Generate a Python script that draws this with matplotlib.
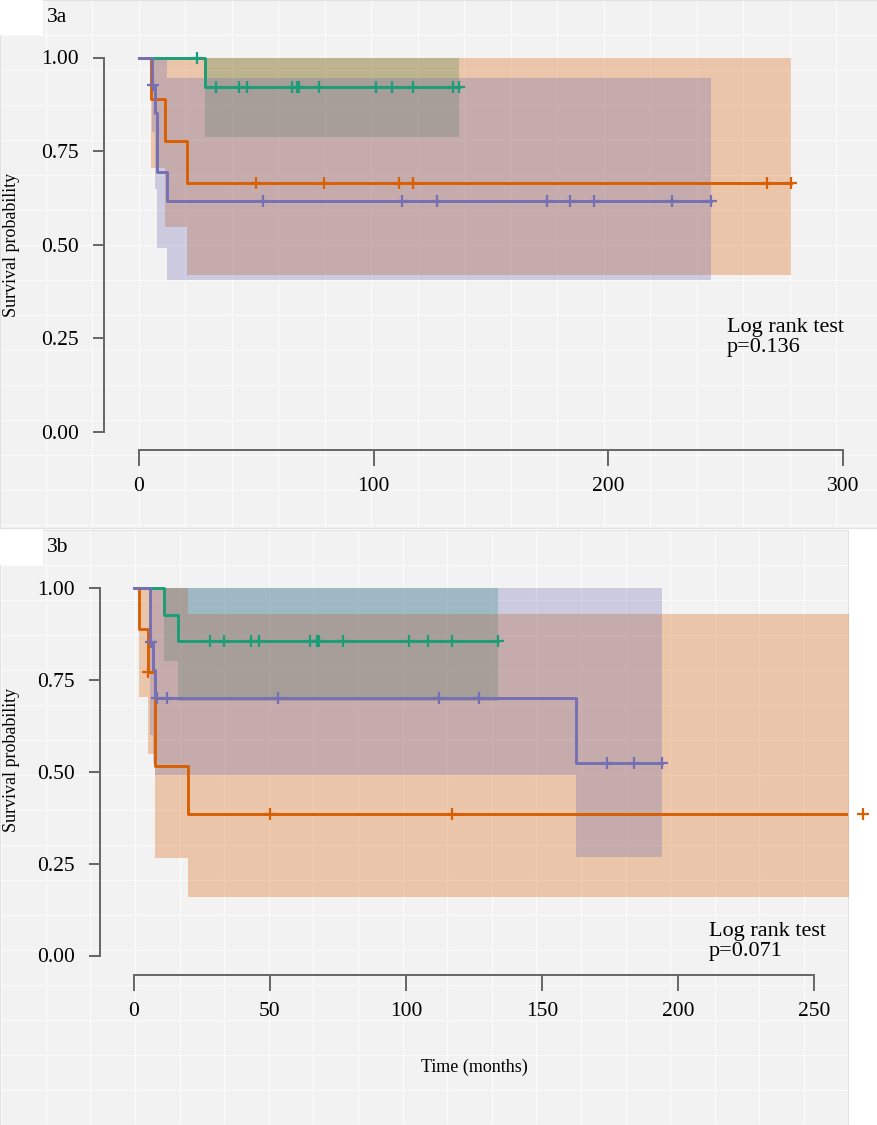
import numpy as np
import matplotlib
matplotlib.use("Agg")
import matplotlib.pyplot as plt
from matplotlib.patches import Rectangle
from matplotlib.ticker import FormatStrFormatter

plt.rcParams['font.family'] = ['Liberation Serif', 'DejaVu Serif']

# ---- panel 3a data ----
a_green_time = [0, 28]
a_green_surv = [1.0, 0.922]
a_green_lower = [1.0, 0.789]
a_green_upper = [1.0, 1.0]
a_green_cens = [24.6, 32.8, 42.7, 45.9, 65.0, 67.2, 68.2, 76.8, 101.0, 107.8, 116.9, 133.9, 136.4]

a_orange_time = [0, 5.0, 11.1, 20.3]
a_orange_surv = [1.0, 0.889, 0.777, 0.664]
a_orange_lower = [1.0, 0.705, 0.548, 0.419]
a_orange_upper = [1.0, 1.0, 1.0, 1.0]
a_orange_cens = [49.8, 78.8, 110.9, 116.9, 267.7, 277.6]

a_purple_time = [0, 5.4, 6.8, 7.8, 12.1]
a_purple_surv = [1.0, 0.927, 0.852, 0.695, 0.617]
a_purple_lower = [1.0, 0.80, 0.65, 0.49, 0.406]
a_purple_upper = [1.0, 1.0, 1.0, 1.0, 0.946]
a_purple_cens = [6.0, 53.0, 112.0, 126.8, 173.7, 183.6, 193.9, 227.0, 243.7]

a_xticks = [0, 100, 200, 300]
a_pvalue = "p=0.136"

# ---- panel 3b data ----
b_green_time = [0, 11.0, 16.1]
b_green_surv = [1.0, 0.927, 0.857]
b_green_lower = [1.0, 0.80, 0.693]
b_green_upper = [1.0, 1.0, 1.0]
b_green_cens = [27.9, 33.1, 42.9, 46.0, 64.7, 67.4, 68.1, 77.0, 101.1, 108.0, 117.0, 133.9]

b_orange_time = [0, 1.95, 5.0, 7.7, 20.0]
b_orange_surv = [1.0, 0.888, 0.772, 0.516, 0.385]
b_orange_lower = [1.0, 0.704, 0.548, 0.264, 0.160]
b_orange_upper = [1.0, 1.0, 1.0, 1.0, 0.929]
b_orange_cens = [5.1, 50.0, 117.0, 268.0]

b_purple_time = [0, 5.9, 7.1, 7.9, 162.4]
b_purple_surv = [1.0, 0.854, 0.777, 0.700, 0.523]
b_purple_lower = [1.0, 0.60, 0.52, 0.491, 0.269]
b_purple_upper = [1.0, 1.0, 1.0, 1.0, 1.0]
b_purple_cens = [6.3, 8.3, 12.0, 53.0, 112.2, 126.9, 173.8, 183.9, 194.0]

b_xticks = [0, 50, 100, 150, 200, 250]
b_pvalue = "p=0.071"

yticks = [0.0, 0.25, 0.50, 0.75, 1.00]

colors = {'green': '#1b9e77', 'orange': '#d95f02', 'purple': '#7570b3'}
bg_color = '#f2f2f2'

W, H = 878, 1125
fig = plt.figure(figsize=(W / 100, H / 100), dpi=100)
fig.patch.set_facecolor('white')


def px_rect(l, t, r, b):
    return [l / W, 1 - b / H, (r - l) / W, (b - t) / H]


def background(l, t, r, b, dx, x0, label):
    bg = fig.add_axes(px_rect(l, t, r, b))
    bg.set_xlim(0, r - l)
    bg.set_ylim(b - t, 0)
    bg.set_facecolor(bg_color)
    bg.set_xticks([])
    bg.set_yticks([])
    for s in bg.spines.values():
        s.set_color('#e2e2e2')
        s.set_linewidth(0.8)
    for x in np.arange(x0, r - l, dx):
        bg.axvline(x, color='#fbfbfb', lw=1.0, zorder=1)
    for y in np.arange(35, b - t, 35):
        bg.axhline(y, color='#fbfbfb', lw=1.0, zorder=1)
    bg.add_patch(Rectangle((0, 0), 43, 35, facecolor='white', edgecolor='none', zorder=3))
    bg.text(47, 18, label, fontsize=15.5, va='center', ha='left', zorder=4)
    return bg


def km_curve(ax, time, surv, lower, upper, cens, color, what):
    end = max(cens)
    x = list(time) + [end]
    if what == 'fill':
        lo = list(lower) + [lower[-1]]
        hi = list(upper) + [upper[-1]]
        ax.fill_between(x, lo, hi, step='post', color=color, alpha=0.3, linewidth=0)
    elif what == 'line':
        y = list(surv) + [surv[-1]]
        ax.step(x, y, where='post', color=color, lw=2.1)
    else:
        idx = np.searchsorted(time, cens, side='right') - 1
        ax.plot(cens, np.array(surv)[idx], '+', color=color, ms=9, mew=1.6,
                clip_on=False, zorder=5)


def survival_axes(rect, xlim, ylim, left_at, bottom_at, xticks, curves):
    ax = fig.add_axes(rect)
    ax.set_facecolor('none')
    for what in ['fill', 'line', 'marks']:
        for c in curves:
            km_curve(ax, *c, what)
    ax.set_xlim(*xlim)
    ax.set_ylim(*ylim)
    ax.spines['top'].set_visible(False)
    ax.spines['right'].set_visible(False)
    ax.spines['left'].set_position(('data', left_at))
    ax.spines['bottom'].set_position(('data', bottom_at))
    ax.spines['left'].set_bounds(0, 1)
    ax.spines['bottom'].set_bounds(xticks[0], xticks[-1])
    for s in ['left', 'bottom']:
        ax.spines[s].set_color('#666666')
        ax.spines[s].set_linewidth(1.4)
    ax.set_xticks(xticks)
    ax.set_yticks(yticks)
    ax.yaxis.set_major_formatter(FormatStrFormatter('%.2f'))
    ax.tick_params(axis='y', direction='out', length=8, width=1.4, color='#666666',
                   pad=10, labelsize=15.5)
    ax.tick_params(axis='x', direction='out', length=11.5, width=1.4, color='#666666',
                   pad=8, labelsize=15.5)
    return ax


# ---- panel 3a ----
background(0, 0, 878, 528, 46.5, -0.5, '3a')
curves_a = [
    (a_green_time, a_green_surv, a_green_lower, a_green_upper, a_green_cens, colors['green']),
    (a_orange_time, a_orange_surv, a_orange_lower, a_orange_upper, a_orange_cens, colors['orange']),
    (a_purple_time, a_purple_surv, a_purple_lower, a_purple_upper, a_purple_cens, colors['purple']),
]
survival_axes(px_rect(95, 45, 870, 465),
              ((95 - 139) / 2.347, (870 - 139) / 2.347),
              ((432 - 465) / 374.5, (432 - 45) / 374.5),
              (104 - 139) / 2.347, (432 - 450) / 374.5,
              a_xticks, curves_a)
fig.text(727 / W, 1 - 318 / H, "Log rank test\n" + a_pvalue, fontsize=16,
         ha='left', va='top', linespacing=1.1)
fig.text(12 / W, 1 - 245 / H, "Survival probability", fontsize=13, rotation=90,
         ha='center', va='center')

# ---- panel 3b ----
background(0, 530, 848, 1125, 44.6, 1.2, '3b')
curves_b = [
    (b_green_time, b_green_surv, b_green_lower, b_green_upper, b_green_cens, colors['green']),
    (b_orange_time, b_orange_surv, b_orange_lower, b_orange_upper, b_orange_cens, colors['orange']),
    (b_purple_time, b_purple_surv, b_purple_lower, b_purple_upper, b_purple_cens, colors['purple']),
]
survival_axes(px_rect(90, 575, 848, 985),
              ((90 - 134) / 2.72, (848 - 134) / 2.72),
              ((955.5 - 985) / 367.5, (955.5 - 575) / 367.5),
              (100 - 134) / 2.72, (955.5 - 975) / 367.5,
              b_xticks, curves_b)
fig.text(709 / W, 1 - 922 / H, "Log rank test\n" + b_pvalue, fontsize=16,
         ha='left', va='top', linespacing=1.1)
fig.text(12 / W, 1 - 760 / H, "Survival probability", fontsize=13, rotation=90,
         ha='center', va='center')
fig.text(474 / W, 1 - 1067 / H, "Time (months)", fontsize=13, ha='center', va='center')

fig.savefig("out.png", dpi=100)
